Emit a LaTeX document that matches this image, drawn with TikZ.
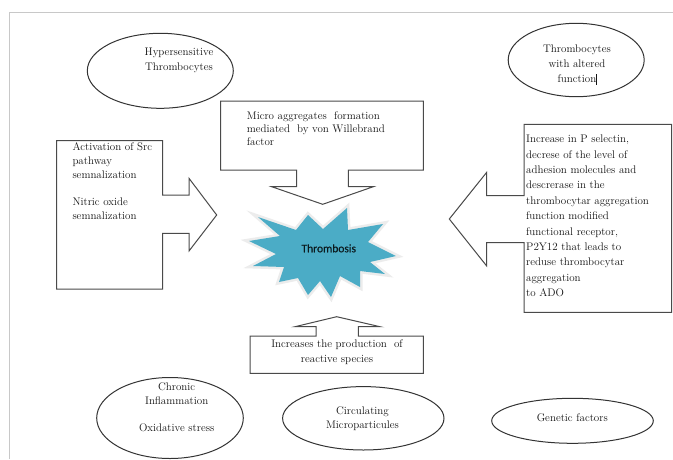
\documentclass[tikz,border=0pt]{standalone}
\usepackage{fontspec}
\newfontfamily\carlito{Carlito}
\usetikzlibrary{shapes.geometric}
\definecolor{linegray}{HTML}{4A4A4A}
\definecolor{ellgray}{HTML}{333333}
\definecolor{framegray}{HTML}{C8C8C8}
\definecolor{txtcol}{HTML}{141414}
\definecolor{burst}{HTML}{4BACC6}
\newcommand\tfont[1]{\fontsize{11}{#1}\selectfont\addfontfeatures{FakeBold=0.9}}
\begin{document}
\begin{tikzpicture}[x=1pt,y=-1pt,
  callout/.style={draw=linegray, line width=1pt, line join=miter, fill=white},
  ell/.style={draw=ellgray, line width=1pt, ellipse, inner sep=0pt},
  txt/.style={inner sep=0pt, text=txtcol, font=\tfont{14}},
]
\useasboundingbox (0,0) rectangle (673,459);
\fill[white] (0,0) rectangle (673,459);
% frame
\coordinate (fa) at (9,459);
\coordinate (fb) at (9,12);
\coordinate (fc) at (673,12);
\draw[framegray, line width=1pt] (fa) -- (fb) -- (fc);

% ellipses
\node[ell, minimum width=146pt, minimum height=75pt] (e1) at (160.3,70.8) {};
\node[ell, minimum width=136pt, minimum height=73.4pt] (e2) at (576.2,60) {};
\node[ell, minimum width=146.6pt, minimum height=81pt] (e3) at (170,418) {};
\node[ell, minimum width=161.4pt, minimum height=63.4pt] (e4) at (363.3,418.3) {};
\node[ell, minimum width=161.6pt, minimum height=45pt] (e5) at (572.5,420.8) {};

\node[txt, anchor=north, align=center, font=\tfont{14.4}] (t1) at (179,48.1) {Hypersensitive\\Thrombocytes};
\node[txt, anchor=north, align=center, font=\tfont{14.7}] (t2) at (577,44.8) {Thrombocytes\\with altered\\function\rlap{\rule[-2.5pt]{1pt}{10.5pt}}};
\node[txt, anchor=north, align=center, font=\tfont{14.4}] (t3) at (176.7,382.1) {Chronic\\Inflammation\\[12.2pt]Oxidative stress};
\node[txt, anchor=north, align=center, font=\tfont{14.3}] (t4) at (362.5,406.5) {Circulating\\Microparticules};
\node[txt, anchor=base] (t5) at (572.3,421.4) {Genetic factors};

% left callout
\draw[callout] (56.7,140.7) -- (162.7,140.7) -- (162.7,195) -- (189,195) -- (189,178.3)
  -- (216.7,215) -- (189,251) -- (189,233.3) -- (162.7,233.3) -- (162.7,289)
  -- (56.7,289) -- cycle;
\node[txt, anchor=north west, align=left] (tl) at (72.3,142.4)
  {Activation of Src\\pathway\\semnalization\\[13pt]Nitric oxide\\semnalization};

% top callout
\draw[callout] (220.7,101) -- (423.3,101) -- (423.3,170) -- (348.3,170) -- (348.3,186.7)
  -- (373.3,186.7) -- (322.7,204.3) -- (271.7,186.7) -- (296.7,186.7) -- (296.7,170)
  -- (220.7,170) -- cycle;
\node[txt, anchor=north west, align=left, font=\tfont{13}] (tt) at (246.7,111.4)
  {Micro aggregates\ \ formation\\mediated\ \ by von Willebrand\\factor};

% right callout
\draw[callout] (524,124.3) -- (671.5,124.3) -- (671.5,312.3) -- (524,312.3) -- (524,242.7)
  -- (486.7,242.7) -- (486.7,266) -- (449.3,219) -- (486.7,172.3) -- (486.7,195.7)
  -- (524,195.7) -- cycle;
\node[txt, anchor=north west, align=left, font=\tfont{15.4}] (tr) at (526,134.8)
  {Increase in P selectin,\\decrese of the level of\\adhesion molecules and\\descrerase in the\\thrombocytar aggregation\\function modified\\functional receptor,\\P2Y12 that leads to\\reduse thrombocytar\\aggregation\\to ADO};

% bottom callout
\draw[callout] (250,336) -- (316,336) -- (316,326.7) -- (295,326.7) -- (336.7,316.7)
  -- (380,326.7) -- (358.3,326.7) -- (358.3,336) -- (423.3,336) -- (423.3,373.3)
  -- (250,373.3) -- cycle;
\node[txt, anchor=north, align=center, font=\tfont{14.3}] (tb) at (337,339.8)
  {Increases the production\ \ of\\reactive species};

% starburst
\def\burstpath{(258,217) -- (296,230) -- (308,215) -- (323,229) -- (347,208) -- (348,230)
  -- (383,224) -- (368,242) -- (396,256) -- (370,262) -- (385,274) -- (360,271)
  -- (360,287) -- (340,276) -- (331,297) -- (320,281) -- (308,295) -- (298,278)
  -- (279,282) -- (284,267) -- (253,266) -- (276,254) -- (249,241) -- (280,236) -- cycle}
\draw[gray!15, line width=5pt, line join=miter] \burstpath;
\fill[burst] \burstpath;
\node[inner sep=0pt, text=black!85!burst, font=\carlito\fontsize{11.5}{12}\selectfont\addfontfeatures{FakeBold=0.3}] (tm) at (328.8,248.3) {Thrombosis};
\end{tikzpicture}
\end{document}
